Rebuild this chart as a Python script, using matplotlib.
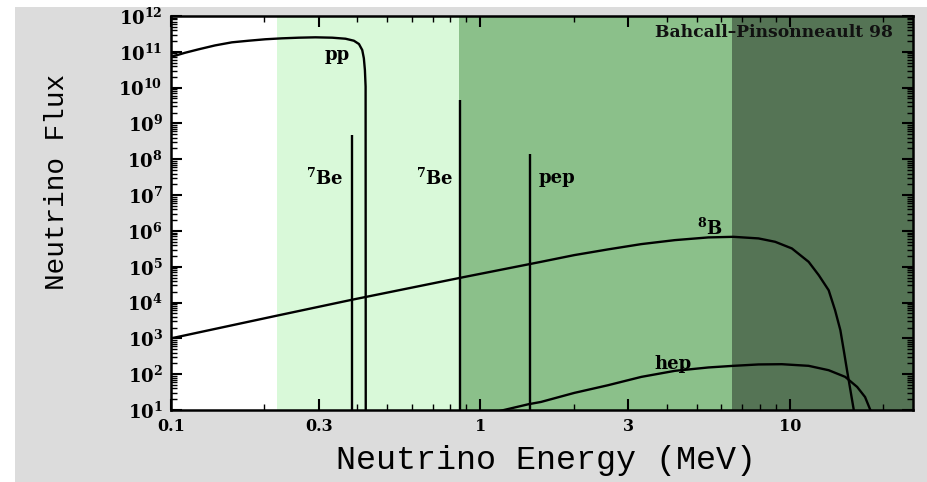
import matplotlib
matplotlib.use('Agg')
import matplotlib.pyplot as plt
from matplotlib.patches import Rectangle
from matplotlib.ticker import FixedLocator, FixedFormatter, LogLocator, NullFormatter

# ---- data ----
pp_energy = [0.1005, 0.111, 0.1226, 0.1388, 0.1573, 0.178, 0.2017, 0.2285, 0.2587, 0.293,
             0.332, 0.3665, 0.390, 0.405, 0.415, 0.420, 0.4233, 0.4255, 0.426]
pp_flux = [7.3e10, 9.4e10, 1.17e11, 1.51e11, 1.84e11, 2.04e11, 2.24e11, 2.38e11, 2.48e11, 2.54e11,
           2.48e11, 2.32e11, 2.04e11, 1.65e11, 1.12e11, 6.6e10, 3.1e10, 1.07e10, 1.0]

b8_energy = [0.1, 0.217, 0.385, 0.88, 1.57, 2.01, 2.58, 3.31, 4.25, 5.45, 6.57, 7.92, 8.96,
             10.15, 11.5, 12.4, 13.35, 14.0, 14.56, 14.93, 15.3, 15.69, 16.09, 16.2]
b8_flux = [1.0e3, 4.2e3, 1.2e4, 5.1e4, 1.37e5, 2.11e5, 3.04e5, 4.28e5, 5.53e5, 6.58e5, 6.84e5,
           6.17e5, 4.97e5, 3.24e5, 1.37e5, 5.8e4, 2.2e4, 6.1e3, 1.7e3, 4.7e2, 1.29e2, 36, 10, 1.0]

hep_energy = [1.10, 1.43, 1.57, 2.01, 2.58, 3.31, 4.25, 5.45, 6.57, 7.92, 9.42, 11.5, 13.35,
              15.1, 16.5, 17.5, 18.2, 18.4]
hep_flux = [8.5, 14.5, 16.8, 30, 49, 84, 124, 154, 171, 187, 190, 171, 129, 84, 44, 23, 10, 1.0]

line_energy = [0.385, 0.862, 1.442]
line_flux = [4.8e8, 4.5e9, 1.4e8]
line_labels = [r'$\mathbf{^7Be}$', r'$\mathbf{^7Be}$', 'pep']

region_edges = [0.22, 0.85, 6.5, 25.0]
region_colors = ['#d9f9d9', '#8bc08a', '#557455']

x_major = [0.1, 0.3, 1, 3, 10]
x_major_labels = ['0.1', '0.3', '1', '3', '10']
y_exponents = list(range(1, 13))

plt.rcParams['mathtext.fontset'] = 'dejavuserif'

fig = plt.figure(figsize=(9.27, 4.82), dpi=100)
fig.patch.set_facecolor('white')
fig.patches.append(Rectangle((15 / 927, 0), 1 - 15 / 927, 1 - 7 / 482,
                             transform=fig.transFigure, facecolor='#dcdcdc',
                             edgecolor='none', zorder=-10))

ax = fig.add_axes([171 / 927, 1 - 410 / 482, (913 - 171) / 927, (410 - 16) / 482])
ax.set_xscale('log')
ax.set_yscale('log')
ax.set_xlim(0.1, 25.0)
ax.set_ylim(10, 1e12)
ax.set_facecolor('white')

for i in range(len(region_colors)):
    ax.axvspan(region_edges[i], region_edges[i + 1], color=region_colors[i], lw=0, zorder=0)

lw = 1.7
ax.plot(pp_energy, pp_flux, color='black', lw=lw, zorder=3, solid_joinstyle='round')
ax.plot(b8_energy, b8_flux, color='black', lw=lw, zorder=3, solid_joinstyle='round')
ax.plot(hep_energy, hep_flux, color='black', lw=lw, zorder=3, solid_joinstyle='round')
ax.vlines(line_energy, 1.0, line_flux, color='black', lw=lw, zorder=3)

tfont = dict(family='DejaVu Serif', fontweight='bold', fontsize=13, color='black')
ax.text(0.345, 8.2e10, 'pp', ha='center', va='center', **tfont)
ax.text(0.313, 3.0e7, line_labels[0], ha='center', va='center', **tfont)
ax.text(0.712, 3.0e7, line_labels[1], ha='center', va='center', **tfont)
ax.text(1.77, 3.0e7, line_labels[2], ha='center', va='center', **tfont)
ax.text(5.5, 1.2e6, r'$\mathbf{^8B}$', ha='center', va='center', **tfont)
ax.text(4.2, 1.9e2, 'hep', ha='center', va='center', **tfont)
ax.text(0.973, 0.957, 'Bahcall\u2013Pinsonneault 98', transform=ax.transAxes,
        ha='right', va='center', family='DejaVu Serif', fontweight='bold',
        fontsize=12.3, color='#111111')

# ticks
ax.xaxis.set_major_locator(FixedLocator(x_major))
ax.xaxis.set_major_formatter(FixedFormatter(x_major_labels))
ax.xaxis.set_minor_locator(LogLocator(base=10, subs=[1, 2, 4, 5, 6, 7, 8, 9], numticks=20))
ax.xaxis.set_minor_formatter(NullFormatter())

ax.yaxis.set_major_locator(FixedLocator([10.0 ** e for e in y_exponents]))
ax.yaxis.set_major_formatter(FixedFormatter([r'$\mathbf{10^{%d}}$' % e for e in y_exponents]))
ax.yaxis.set_minor_locator(LogLocator(base=10, subs=[2, 3, 4, 5, 6, 7, 8, 9], numticks=30))
ax.yaxis.set_minor_formatter(NullFormatter())

ax.tick_params(which='both', direction='in', top=True, right=True, color='black')
ax.tick_params(which='major', length=8, width=1.5)
ax.tick_params(which='minor', length=4, width=1.0)
ax.tick_params(axis='x', which='major', labelsize=11.5, pad=6)
ax.tick_params(axis='y', which='major', labelsize=13, pad=6)
for lab in ax.get_xticklabels():
    lab.set_fontfamily('DejaVu Serif')
    lab.set_fontweight('bold')

for s in ax.spines.values():
    s.set_linewidth(1.8)
    s.set_color('black')

fig.text(546 / 927, 1 - 460 / 482, 'Neutrino Energy (MeV)', ha='center', va='center',
         family='Liberation Mono', fontsize=24, color='black')
fig.text(57 / 927, 1 - 182 / 482, 'Neutrino Flux', ha='center', va='center', rotation=90,
         family='Liberation Mono', fontsize=20, color='black')

fig.savefig('out.png', dpi=100, facecolor=fig.get_facecolor())
